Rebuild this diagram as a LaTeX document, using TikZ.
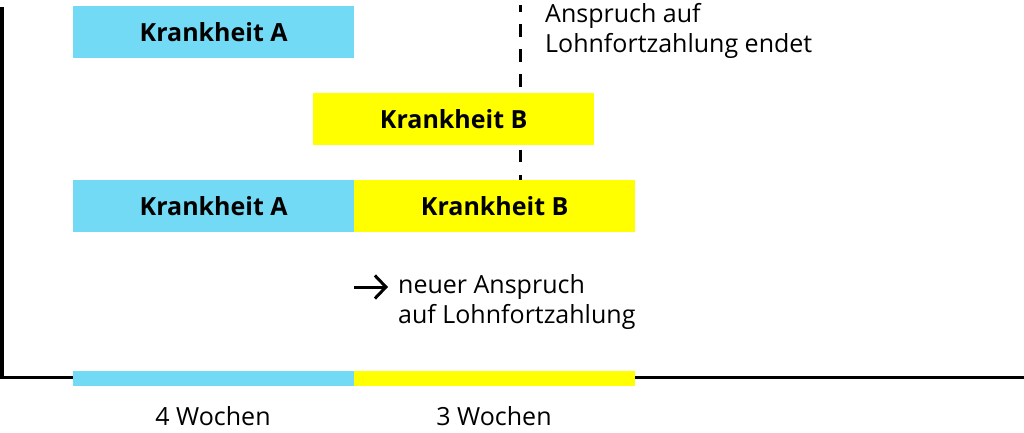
\documentclass[tikz,border=0pt]{standalone}
\usepackage{fontspec}
\setmainfont{Open Sans}
\usetikzlibrary{positioning,arrows.meta}
\definecolor{krankblau}{HTML}{73DAF6}
\definecolor{krankgelb}{HTML}{FFFF00}
\tikzset{balken/.style={minimum height=52pt,minimum width=281pt,inner sep=0pt,anchor=north west,
                        font=\bfseries\fontsize{25}{30}\selectfont},
         notiz/.style={inner sep=0pt,align=left,font=\fontsize{25}{30}\selectfont}}
\begin{document}
\begin{tikzpicture}[x=1pt,y=-1pt]
                  \useasboundingbox (0,0) rectangle (1024,433);
                  % Achsen
                  \coordinate (oben) at (2,7);
                  \coordinate (ecke) at (2,377.5);
                  \coordinate (rechts) at (1024,377.5);
                  \draw[line width=3.5pt] (oben) -- (ecke) -- (rechts);
                  % Ende des Anspruchs (hinter den Balken)
                  \coordinate (ende) at (520,5);
                  \coordinate (unten) at (520,180);
                  \draw[line width=3pt,dash pattern=on 12.5pt off 12.5pt,dash phase=5.5pt] (ende) -- (unten);
                  % Krankheiten
                  \node[balken,fill=krankblau] (a1) at (73,6) {Krankheit A};
                  \node[balken,fill=krankgelb] (b1) at (313,93) {Krankheit B};
                  \node[balken,fill=krankblau] (a2) at (73,180) {Krankheit A};
                  \node[balken,fill=krankgelb] (b2) at (354,180) {Krankheit B};
                  \node[notiz,anchor=north west] (endet) at (545,3) {Anspruch auf\\Lohnfortzahlung endet};
                  % neuer Anspruch
                  \node[notiz,anchor=west] (neu) at (398,302) {neuer Anspruch\\auf Lohnfortzahlung};
                  \coordinate (pfeil) at (354,287);
                  \draw[line width=3pt,-{Straight Barb[length=11pt,width=23pt,line width=3pt]}] (pfeil) -- ([xshift=-10pt]neu.west |- pfeil);
                  % Zeitleiste
                  \node[inner sep=0pt,minimum width=281pt,minimum height=15pt,fill=krankblau,anchor=north west] (w4) at (73,370.5) {};
                  \node[inner sep=0pt,minimum width=281pt,minimum height=15pt,fill=krankgelb,anchor=north west] (w3) at (354,370.5) {};
                  \node[notiz] (l4) at (213,416) {4 Wochen};
                  \node[notiz] (l3) at (494,416) {3 Wochen};
              \end{tikzpicture}
\end{document}
